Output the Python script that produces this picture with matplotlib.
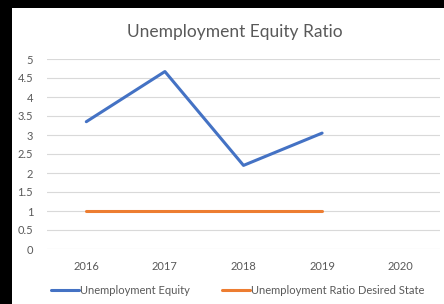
import matplotlib
matplotlib.use("Agg")
import matplotlib.pyplot as plt

years = ["2016", "2017", "2018", "2019", "2020"]
equity = [3.35, 4.67, 2.2, 3.05]
desired = [1, 1, 1, 1]
yticks = [0, 0.5, 1, 1.5, 2, 2.5, 3, 3.5, 4, 4.5, 5]
yticklabels = ["0", "0.5", "1", "1.5", "2", "2.5", "3", "3.5", "4", "4.5", "5"]

plt.rcParams['font.family'] = ['Lato', 'DejaVu Sans']
W, H = 444, 304
fig = plt.figure(figsize=(W/100, H/100), dpi=100, facecolor="black")
bg = fig.add_axes([12/W, 0, 1 - 12/W, 1 - 8/H], zorder=-5)
bg.set_facecolor("white")
bg.set_xticks([]); bg.set_yticks([])
for s in bg.spines.values():
    s.set_visible(False)

gray = "#595959"

ax = fig.add_axes([47/W, 1 - 249/H, (440-47)/W, (249-59)/H], zorder=2)
ax.set_facecolor("none")
x = list(range(len(years)))
ax.plot(x[:len(equity)], equity, color="#4472C4", lw=2.2, label="Unemployment Equity", solid_capstyle="round")
ax.plot(x[:len(desired)], desired, color="#ED7D31", lw=2.2, label="Unemployment Ratio Desired State", solid_capstyle="round")
ax.set_xlim(-0.5, len(years) - 0.5)
ax.set_ylim(0, 5)
ax.set_yticks(yticks)
ax.set_yticklabels(yticklabels)
ax.set_xticks(x)
ax.set_xticklabels(years)
ax.grid(axis="y", color="#D9D9D9", lw=0.8)
ax.set_axisbelow(True)
for s in ax.spines.values():
    s.set_visible(False)
ax.tick_params(length=0, labelsize=8, colors=gray, pad=9)
ax.tick_params(axis="y", pad=10)

fig.text(235/W, 1 - 32/H, "Unemployment Equity Ratio", ha="center", va="center",
         fontsize=12.5, color=gray)

leg = fig.legend(loc="center", bbox_to_anchor=(238/W, 1 - 290/H), ncol=2, frameon=False,
                 fontsize=8, labelcolor=gray, handlelength=2.5, handletextpad=0.1,
                 columnspacing=2.9)

fig.savefig("out.png", dpi=100, facecolor=fig.get_facecolor())
